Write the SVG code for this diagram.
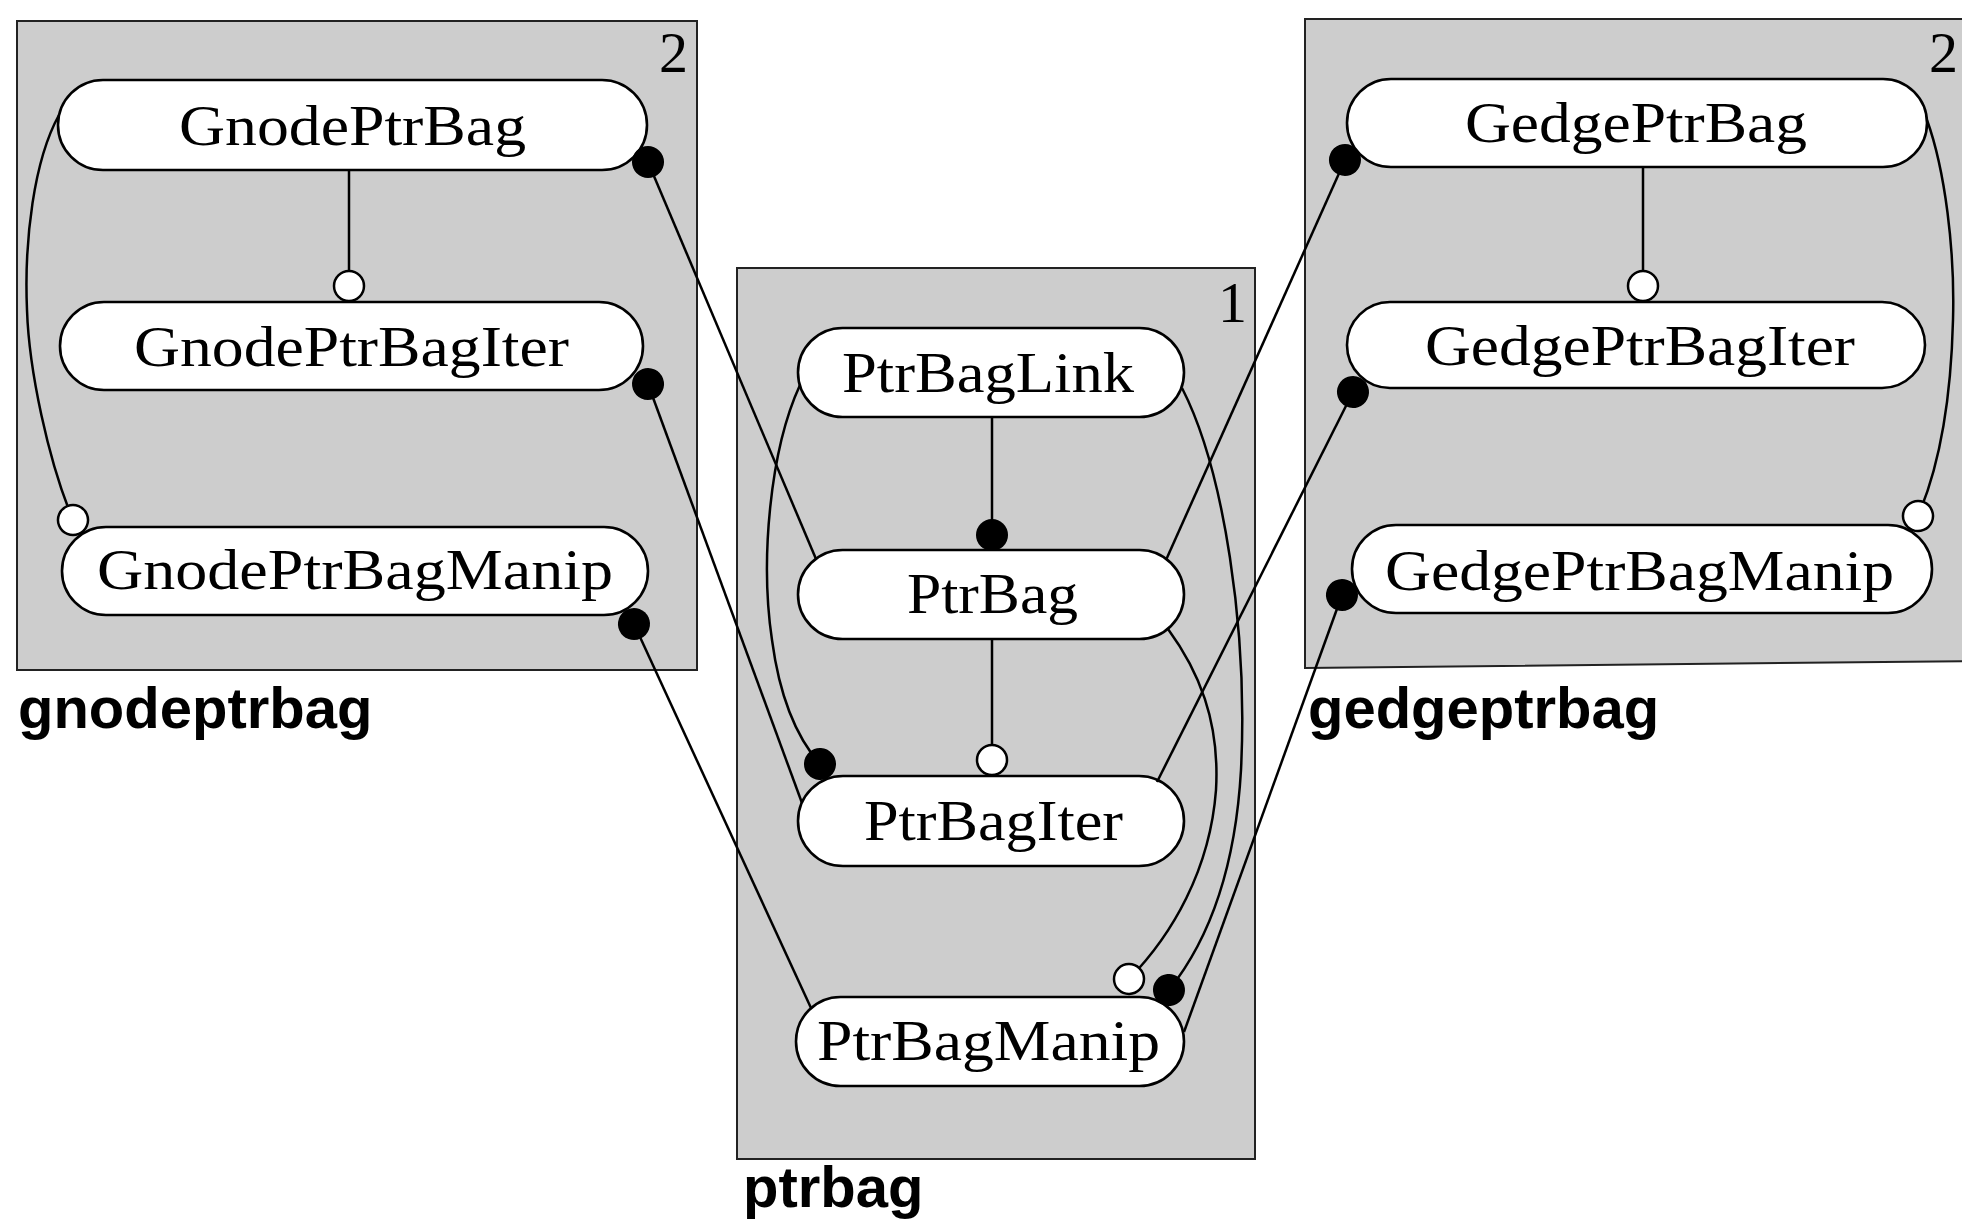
<svg xmlns="http://www.w3.org/2000/svg" width="1962" height="1224" viewBox="0 0 1962 1224">
<style>
.box{fill:#cdcdcd;stroke:#222;stroke-width:2}
.node{fill:#fff;stroke:#000;stroke-width:2.6}
.nt{font-family:"Liberation Serif","Times New Roman",serif;font-size:56px;fill:#000;text-anchor:middle}
.num{font-family:"Liberation Serif","Times New Roman",serif;font-size:58px;fill:#000}
.lbl{font-family:"Liberation Sans",Arial,sans-serif;font-weight:bold;font-size:58px;fill:#000}
.c{fill:none;stroke:#000;stroke-width:2.5}
.f{marker-end:url(#fd)}
.o{marker-end:url(#od)}
</style>
<defs>
<marker id="fd" markerUnits="userSpaceOnUse" viewBox="0 0 40 40" markerWidth="40" markerHeight="40" refX="20" refY="20" orient="auto"><circle cx="20" cy="20" r="16" fill="#000"/></marker>
<marker id="od" markerUnits="userSpaceOnUse" viewBox="0 0 40 40" markerWidth="40" markerHeight="40" refX="20" refY="20" orient="auto"><circle cx="20" cy="20" r="15" fill="#fff" stroke="#000" stroke-width="2.5"/></marker>
</defs>
<rect width="1962" height="1224" fill="#fff"/>

<g id="pkg-gnodeptrbag">
<rect class="box" x="17" y="21" width="680" height="649"/>
<text class="num" x="688" y="72" text-anchor="end">2</text>
<text class="lbl" x="18" y="728">gnodeptrbag</text>
</g>
<g id="pkg-ptrbag">
<rect class="box" x="737" y="268" width="518" height="891"/>
<text class="num" x="1247" y="322" text-anchor="end">1</text>
<text class="lbl" x="743" y="1207">ptrbag</text>
</g>
<g id="pkg-gedgeptrbag">
<polygon class="box" points="1305,19 1980,19 1980,661 1305,668"/>
<text class="num" x="1958" y="72" text-anchor="end">2</text>
<text class="lbl" x="1308" y="728">gedgeptrbag</text>
</g>

<g id="GnodePtrBag"><rect class="node" x="58" y="80" width="589" height="90" rx="45"/><text class="nt" x="352.5" y="145" textLength="347" lengthAdjust="spacingAndGlyphs">GnodePtrBag</text></g>
<g id="GnodePtrBagIter"><rect class="node" x="60" y="302" width="583" height="88" rx="44"/><text class="nt" x="351.5" y="366" textLength="435" lengthAdjust="spacingAndGlyphs">GnodePtrBagIter</text></g>
<g id="GnodePtrBagManip"><rect class="node" x="62" y="527" width="586" height="88" rx="44"/><text class="nt" x="355" y="589" textLength="516" lengthAdjust="spacingAndGlyphs">GnodePtrBagManip</text></g>

<g id="PtrBagLink"><rect class="node" x="798" y="328" width="386" height="89" rx="44.5"/><text class="nt" x="988" y="392" textLength="292" lengthAdjust="spacingAndGlyphs">PtrBagLink</text></g>
<g id="PtrBag"><rect class="node" x="798" y="550" width="386" height="89" rx="44.5"/><text class="nt" x="992.5" y="613" textLength="171" lengthAdjust="spacingAndGlyphs">PtrBag</text></g>
<g id="PtrBagIter"><rect class="node" x="798" y="776" width="386" height="90" rx="45"/><text class="nt" x="993.5" y="840" textLength="259" lengthAdjust="spacingAndGlyphs">PtrBagIter</text></g>
<g id="PtrBagManip"><rect class="node" x="796" y="997" width="388" height="89" rx="44.5"/><text class="nt" x="988.5" y="1060" textLength="343" lengthAdjust="spacingAndGlyphs">PtrBagManip</text></g>

<g id="GedgePtrBag"><rect class="node" x="1347" y="79" width="580" height="88" rx="44"/><text class="nt" x="1636" y="142" textLength="342" lengthAdjust="spacingAndGlyphs">GedgePtrBag</text></g>
<g id="GedgePtrBagIter"><rect class="node" x="1347" y="302" width="578" height="86" rx="43"/><text class="nt" x="1640" y="365" textLength="430" lengthAdjust="spacingAndGlyphs">GedgePtrBagIter</text></g>
<g id="GedgePtrBagManip"><rect class="node" x="1352" y="525" width="580" height="88" rx="44"/><text class="nt" x="1639.5" y="590" textLength="509" lengthAdjust="spacingAndGlyphs">GedgePtrBagManip</text></g>

<g id="connectors">
<path class="c o" d="M349 170 L349 286"/>
<path class="c o" d="M59 115 C34 160 24 240 27 310 C29 370 48 460 73 520"/>
<path class="c f" d="M992 417 L992 535"/>
<path class="c o" d="M992 639 L992 760"/>
<path class="c f" d="M800 385 C770 450 760 560 772 640 C780 700 797 738 820 764"/>
<path class="c f" d="M1182 388 C1224 470 1248 630 1241 770 C1235 875 1205 945 1169 990"/>
<path class="c o" d="M1168 629 C1198 670 1220 720 1216 790 C1210 870 1172 935 1129 979"/>
<path class="c f" d="M816 559 L648 162"/>
<path class="c f" d="M802 803 L648 384"/>
<path class="c f" d="M811 1008 L634 624"/>
<path class="c f" d="M1166 560 L1345 160"/>
<path class="c f" d="M1157 782 L1353 392"/>
<path class="c f" d="M1184 1032 L1342 595"/>
<path class="c o" d="M1643 167 L1643 286"/>
<path class="c o" d="M1927 120 C1945 170 1955 250 1953 320 C1951 400 1940 465 1918 516"/>
</g>
</svg>
